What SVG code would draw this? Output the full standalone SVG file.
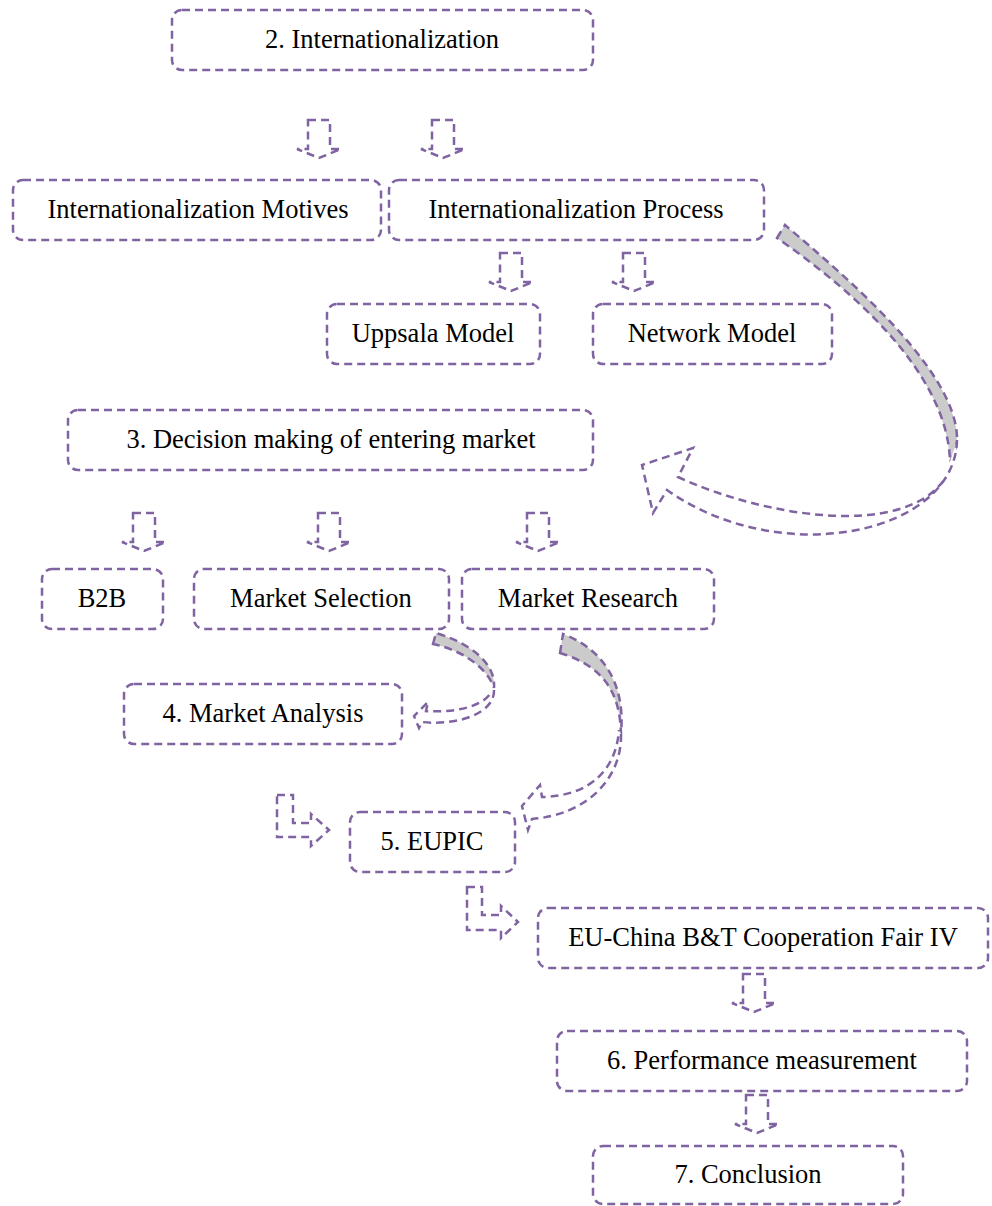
<svg xmlns="http://www.w3.org/2000/svg" xmlns:xlink="http://www.w3.org/1999/xlink" width="992" height="1206" viewBox="0 0 992 1206">
<style>
.box{fill:#ffffff;stroke:#8064A2;stroke-width:2.5;stroke-dasharray:8 5}
.lbl{font-family:"Liberation Serif","Times New Roman",serif;font-size:26.5px;fill:#000000;text-anchor:middle}
.ar{fill:#ffffff;stroke:#8064A2;stroke-width:2.5;stroke-dasharray:8 5;stroke-linejoin:miter}
.band{fill:#CBCBCB;stroke:#8064A2;stroke-width:2.5;stroke-dasharray:8 5}
</style>
<defs>
<path id="down" d="M-11,0 H11 V29 H22 L0,38 L-22,29 H-11 Z"/>
</defs>
<rect width="992" height="1206" fill="#ffffff"/>
<g id="connectors">
<use xlink:href="#down" class="ar" x="319" y="120"/>
<use xlink:href="#down" class="ar" x="443" y="120"/>
<use xlink:href="#down" class="ar" x="511" y="253"/>
<use xlink:href="#down" class="ar" x="634" y="253"/>
<use xlink:href="#down" class="ar" x="144" y="513"/>
<use xlink:href="#down" class="ar" x="329" y="513"/>
<use xlink:href="#down" class="ar" x="538" y="513"/>
<use xlink:href="#down" class="ar" x="754" y="974"/>
<use xlink:href="#down" class="ar" x="757" y="1095"/>
<path class="ar" d="M277,795 H293 V823 H311 V814 L329,830 L311,846 V837 H277 Z"/>
<path class="ar" d="M467,887 H482 V915 H501 V906 L518,922 L501,938 V930 H467 Z"/>
<!-- big curved arrow from Internationalization Process to Decision -->
<path class="band" d="M777,238 L785,225 C850,280 955,370 957,437 C957,447 954,455 950,462 C948,370 845,285 777,238 Z"/>
<path class="ar" d="M957,440 C955,535 780,570 667,490 L653,513 L642,465 L693,448 L678,477 C760,515 900,540 944,480"/>
<!-- Market Selection curved arrow -->
<path class="band" d="M433,644 L436,633 C472,644 496,664 494,688 C490,674 470,652 433,644 Z"/>
<path class="ar" d="M494,690 C495,713 458,726 422,722 L419,728 L414,716 L428,702 L426,711 C456,713 482,706 490,694"/>
<!-- Market Research curved arrow -->
<path class="band" d="M560,653 L563,634 C600,648 626,680 621,734 C620,700 610,668 560,653 Z"/>
<path class="ar" d="M621,734 C622,780 585,815 532,819 L528,830 L522,806 L540,785 L542,797 C590,796 616,770 619,730"/>
</g>
<g id="n1"><rect class="box" x="172" y="10" width="421" height="60" rx="10"/><text class="lbl" x="382" y="48">2. Internationalization</text></g>
<g id="n2"><rect class="box" x="13" y="180" width="368" height="60" rx="10"/><text class="lbl" x="198" y="218">Internationalization Motives</text></g>
<g id="n3"><rect class="box" x="389" y="180" width="375" height="60" rx="10"/><text class="lbl" x="576" y="218">Internationalization Process</text></g>
<g id="n4"><rect class="box" x="327" y="304" width="213" height="60" rx="10"/><text class="lbl" x="433" y="342">Uppsala Model</text></g>
<g id="n5"><rect class="box" x="593" y="304" width="239" height="60" rx="10"/><text class="lbl" x="712" y="342">Network Model</text></g>
<g id="n6"><rect class="box" x="68" y="410" width="525" height="60" rx="10"/><text class="lbl" x="331" y="448">3. Decision making of entering market</text></g>
<g id="n7"><rect class="box" x="42" y="569" width="121" height="60" rx="10"/><text class="lbl" x="102" y="607">B2B</text></g>
<g id="n8"><rect class="box" x="194" y="569" width="255" height="60" rx="10"/><text class="lbl" x="321" y="607">Market Selection</text></g>
<g id="n9"><rect class="box" x="462" y="569" width="252" height="60" rx="10"/><text class="lbl" x="588" y="607">Market Research</text></g>
<g id="n10"><rect class="box" x="124" y="684" width="278" height="60" rx="10"/><text class="lbl" x="263" y="722">4. Market Analysis</text></g>
<g id="n11"><rect class="box" x="350" y="812" width="165" height="60" rx="10"/><text class="lbl" x="432" y="850">5. EUPIC</text></g>
<g id="n12"><rect class="box" x="538" y="908" width="450" height="60" rx="10"/><text class="lbl" x="763" y="946">EU-China B&amp;T Cooperation Fair IV</text></g>
<g id="n13"><rect class="box" x="557" y="1031" width="410" height="60" rx="10"/><text class="lbl" x="762" y="1069">6. Performance measurement</text></g>
<g id="n14"><rect class="box" x="593" y="1146" width="310" height="58" rx="10"/><text class="lbl" x="748" y="1183">7. Conclusion</text></g>
</svg>
